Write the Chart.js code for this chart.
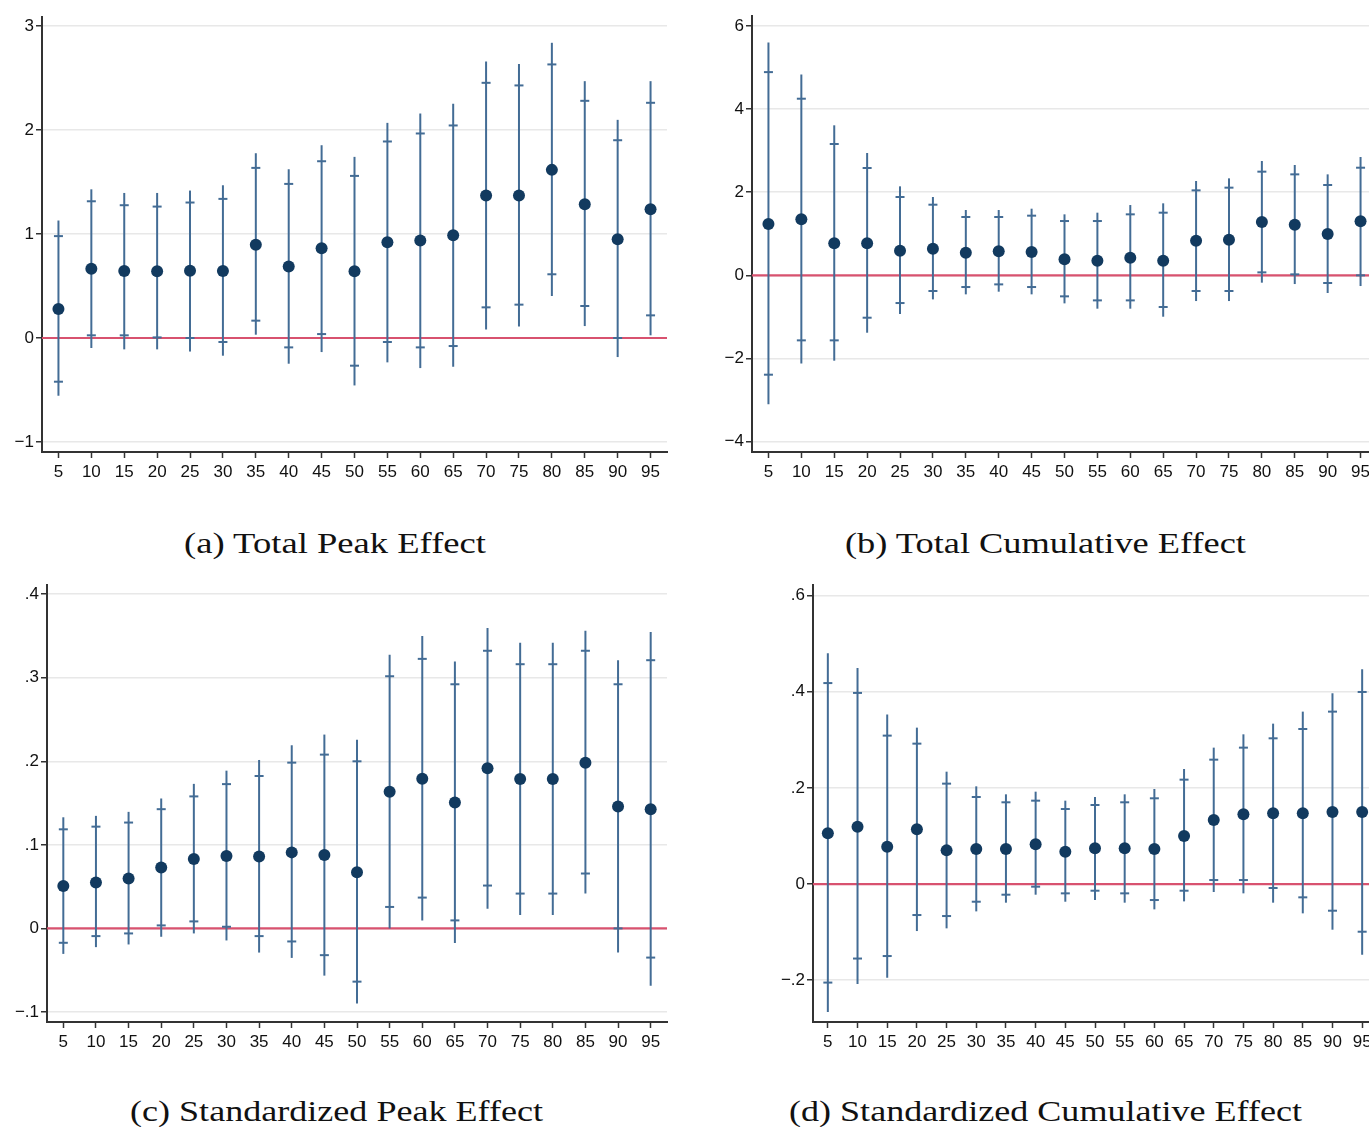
<!DOCTYPE html>
<html><head><meta charset="utf-8">
<script src="https://cdn.jsdelivr.net/npm/chart.js@4.4.1/dist/chart.umd.min.js"></script>
<style>
html,body{margin:0;padding:0;background:#fff;}
#wrap{position:relative;width:1369px;height:1127px;overflow:hidden;background:#fff;}
canvas{position:absolute;}
.cap{position:absolute;font-family:"Liberation Serif",serif;font-size:30px;line-height:1;color:#111;white-space:nowrap;transform-origin:0 0;}
</style></head><body>
<div id="wrap">
<canvas id="cA"></canvas>
<canvas id="cB"></canvas>
<canvas id="cC"></canvas>
<canvas id="cD"></canvas>
<div class="cap" id="capA">(a) Total Peak Effect</div>
<div class="cap" id="capB">(b) Total Cumulative Effect</div>
<div class="cap" id="capC">(c) Standardized Peak Effect</div>
<div class="cap" id="capD">(d) Standardized Cumulative Effect</div>
</div>
<script>
// ---------- data ----------
const categories = [5,10,15,20,25,30,35,40,45,50,55,60,65,70,75,80,85,90,95];

// (a) Total Peak Effect
const peakEst  = [0.28,0.667,0.645,0.642,0.648,0.645,0.898,0.687,0.863,0.642,0.921,0.937,0.988,1.37,1.37,1.617,1.287,0.95,1.238];
const peakLo95 = [-0.555,-0.096,-0.109,-0.109,-0.13,-0.17,0.032,-0.247,-0.135,-0.456,-0.234,-0.289,-0.276,0.083,0.112,0.404,0.115,-0.183,0.026];
const peakHi95 = [1.13,1.43,1.395,1.395,1.418,1.469,1.777,1.623,1.854,1.742,2.069,2.159,2.252,2.66,2.634,2.839,2.47,2.098,2.47];
const peakLo90 = [-0.42,0.026,0.026,0.006,0.0,-0.038,0.167,-0.09,0.038,-0.266,-0.038,-0.09,-0.077,0.295,0.321,0.613,0.308,0.0,0.218];
const peakHi90 = [0.98,1.315,1.277,1.264,1.303,1.338,1.636,1.482,1.70,1.559,1.89,1.967,2.044,2.454,2.429,2.631,2.281,1.902,2.262];

// (b) Total Cumulative Effect
const cumEst  = [1.235,1.348,0.77,0.77,0.594,0.642,0.545,0.578,0.561,0.385,0.353,0.425,0.353,0.834,0.858,1.283,1.219,0.995,1.30];
const cumLo95 = [-3.10,-2.118,-2.053,-1.38,-0.93,-0.578,-0.457,-0.393,-0.457,-0.674,-0.802,-0.802,-0.995,-0.618,-0.618,-0.176,-0.209,-0.425,-0.257];
const cumHi95 = [5.60,4.83,3.61,2.944,2.142,1.885,1.572,1.572,1.604,1.468,1.508,1.692,1.733,2.27,2.334,2.751,2.655,2.43,2.848];
const cumLo90 = [-2.39,-1.564,-1.564,-1.019,-0.666,-0.377,-0.281,-0.217,-0.281,-0.505,-0.602,-0.602,-0.762,-0.377,-0.377,0.072,0.024,-0.184,0.0];
const cumHi90 = [4.89,4.25,3.16,2.583,1.885,1.70,1.404,1.404,1.436,1.307,1.307,1.468,1.508,2.045,2.11,2.495,2.43,2.174,2.59];

// (c) Standardized Peak Effect
const stdPeakEst  = [0.0509,0.0549,0.0597,0.0729,0.083,0.0866,0.0862,0.091,0.0878,0.0673,0.1635,0.1792,0.1507,0.1916,0.1788,0.1788,0.1984,0.1459,0.1427];
const stdPeakLo95 = [-0.0305,-0.0224,-0.0192,-0.01,-0.006,-0.0144,-0.0289,-0.0353,-0.0565,-0.0898,0.0,0.0096,-0.0176,0.0236,0.016,0.016,0.0417,-0.0289,-0.0685];
const stdPeakHi95 = [0.133,0.1347,0.1395,0.1555,0.173,0.1888,0.2016,0.2192,0.232,0.2257,0.3275,0.35,0.3194,0.3595,0.3419,0.3419,0.3563,0.321,0.3547];
const stdPeakLo90 = [-0.0172,-0.0092,-0.006,0.0036,0.0084,0.002,-0.0092,-0.0156,-0.032,-0.0637,0.0257,0.0369,0.0096,0.0513,0.0417,0.0417,0.0657,0.0,-0.0349];
const stdPeakHi90 = [0.1186,0.1218,0.1267,0.1427,0.158,0.1727,0.1824,0.1984,0.208,0.20,0.3018,0.3226,0.2922,0.3323,0.3162,0.3162,0.3323,0.2922,0.321];

// (d) Standardized Cumulative Effect
const stdCumEst  = [0.1054,0.1193,0.0777,0.1138,0.07,0.0728,0.0728,0.0825,0.0673,0.0742,0.0742,0.0728,0.0999,0.1332,0.145,0.147,0.147,0.1498,0.1498];
const stdCumLo95 = [-0.266,-0.208,-0.195,-0.0978,-0.0922,-0.0569,-0.0388,-0.0222,-0.0368,-0.0333,-0.0388,-0.0527,-0.0361,-0.0166,-0.0194,-0.0388,-0.061,-0.095,-0.147];
const stdCumHi95 = [0.48,0.4495,0.3524,0.3253,0.2337,0.2032,0.1866,0.1921,0.1734,0.181,0.1866,0.1977,0.2393,0.2837,0.3114,0.3336,0.3586,0.3968,0.4467];
const stdCumLo90 = [-0.205,-0.155,-0.1498,-0.0645,-0.0666,-0.0368,-0.0222,-0.0055,-0.0194,-0.0139,-0.0194,-0.0333,-0.0139,0.0083,0.0083,-0.0083,-0.0277,-0.0555,-0.0992];
const stdCumHi90 = [0.418,0.3975,0.3087,0.292,0.2088,0.181,0.17,0.1734,0.156,0.1644,0.17,0.1783,0.2171,0.2587,0.2837,0.3031,0.3225,0.3586,0.3995];

// tick values / labels
const aTicks = [-1,0,1,2,3];           const aTickLabels = ['\u22121','0','1','2','3'];
const bTicks = [-4,-2,0,2,4,6];        const bTickLabels = ['\u22124','\u22122','0','2','4','6'];
const cTicks = [-0.1,0,0.1,0.2,0.3,0.4]; const cTickLabels = ['\u2212.1','0','.1','.2','.3','.4'];
const dTicks = [-0.2,0,0.2,0.4,0.6];   const dTickLabels = ['\u2212.2','0','.2','.4','.6'];
const refValue = 0;

// ---------- drawing ----------
const BAR_COLOR = '#436c95';
const PT_COLOR = '#123a5f';
const REF_COLOR = '#d8526f';

const ciPlugin = {
  id: 'ci',
  beforeDatasetsDraw(chart, args, o) {
    const {ctx, chartArea: a, scales: {x, y}} = chart;
    ctx.save();
    ctx.beginPath();
    ctx.rect(a.left, a.top, a.right - a.left, a.bottom - a.top);
    ctx.clip();
    const y0 = y.getPixelForValue(refValue);
    ctx.strokeStyle = REF_COLOR; ctx.lineWidth = 2.2;
    ctx.beginPath(); ctx.moveTo(a.left, y0); ctx.lineTo(a.right, y0); ctx.stroke();
    ctx.strokeStyle = BAR_COLOR; ctx.lineWidth = 2; ctx.lineCap = 'butt';
    categories.forEach((c, i) => {
      const px = x.getPixelForValue(c);
      ctx.beginPath();
      ctx.moveTo(px, y.getPixelForValue(o.lo95[i]));
      ctx.lineTo(px, y.getPixelForValue(o.hi95[i]));
      ctx.stroke();
      [o.lo90[i], o.hi90[i]].forEach(v => {
        const py = y.getPixelForValue(v);
        ctx.beginPath(); ctx.moveTo(px - 4.5, py); ctx.lineTo(px + 4.5, py); ctx.stroke();
      });
    });
    ctx.restore();
  }
};

const tickFont = {family: '"Liberation Sans", Arial, sans-serif', size: 17};

function makePanel(id, box, est, lo95, hi95, lo90, hi90, yTicks, yLabels) {
  const cv = document.getElementById(id);
  cv.width = box.w; cv.height = box.h;
  cv.style.left = box.left + 'px'; cv.style.top = box.top + 'px';
  new Chart(cv, {
    type: 'scatter',
    data: {datasets: [{
      data: categories.map((c, i) => ({x: c, y: est[i]})),
      pointRadius: 6, pointHoverRadius: 6,
      pointBackgroundColor: PT_COLOR, pointBorderWidth: 0, borderColor: PT_COLOR
    }]},
    options: {
      responsive: false, animation: false, devicePixelRatio: 1,
      events: [],
      layout: {padding: {top: box.padTop, right: box.padRight, left: 0, bottom: 0}},
      plugins: {legend: {display: false}, tooltip: {enabled: false},
        ci: {lo95, hi95, lo90, hi90}},
      scales: {
        x: {
          type: 'linear', min: box.xMin, max: box.xMax,
          afterBuildTicks: s => { s.ticks = categories.map(v => ({value: v})); },
          afterFit: s => { s.height = box.xAxisH; },
          ticks: {autoSkip: false, maxRotation: 0, minRotation: 0, padding: 4,
            font: tickFont, color: '#111',
            callback: (v) => String(v)},
          grid: {drawOnChartArea: false, drawTicks: true, tickLength: 6, tickColor: '#333', tickWidth: 1.5},
          border: {display: true, color: '#333', width: 2}
        },
        y: {
          type: 'linear', min: box.yMin, max: box.yMax,
          afterBuildTicks: s => { s.ticks = yTicks.map(v => ({value: v})); },
          afterFit: s => { s.width = box.yAxisW; },
          ticks: {padding: 2, font: tickFont, color: '#111',
            callback: (v) => { const k = yTicks.findIndex(t => Math.abs(t - v) < 1e-9); return k >= 0 ? yLabels[k] : ''; }},
          grid: {color: '#e8e8e8', lineWidth: 1.5, drawTicks: true, tickLength: 6, tickColor: '#333', tickWidth: 1.5},
          border: {display: true, color: '#333', width: 2}
        }
      }
    },
    plugins: [ciPlugin]
  });
}

makePanel('cA', {left: 0, top: 0, w: 680, h: 500, padTop: 17, padRight: 13, yAxisW: 42, xAxisH: 48,
  xMin: 2.5, xMax: 97.5, yMin: -1.096, yMax: 3.087},
  peakEst, peakLo95, peakHi95, peakLo90, peakHi90, aTicks, aTickLabels);
makePanel('cB', {left: 710, top: 0, w: 680, h: 500, padTop: 16, padRight: 13, yAxisW: 42, xAxisH: 48,
  xMin: 2.5, xMax: 97.5, yMin: -4.25, yMax: 6.24},
  cumEst, cumLo95, cumHi95, cumLo90, cumHi90, bTicks, bTickLabels);
makePanel('cC', {left: 0, top: 568, w: 680, h: 502, padTop: 17, padRight: 13, yAxisW: 47, xAxisH: 48,
  xMin: 2.5, xMax: 97.5, yMin: -0.112, yMax: 0.411},
  stdPeakEst, stdPeakLo95, stdPeakHi95, stdPeakLo90, stdPeakHi90, cTicks, cTickLabels);
makePanel('cD', {left: 763, top: 568, w: 627, h: 502, padTop: 17, padRight: 13, yAxisW: 50, xAxisH: 48,
  xMin: 2.5, xMax: 97.5, yMin: -0.287, yMax: 0.622},
  stdCumEst, stdCumLo95, stdCumHi95, stdCumLo90, stdCumHi90, dTicks, dTickLabels);

// captions: [id, center x, baseline y, target width]
const caps = [['capA', 335, 553, 302], ['capB', 1045.5, 553, 401], ['capC', 336.5, 1121, 413], ['capD', 1045.5, 1121, 513]];
caps.forEach(([id, cx, base, tw]) => {
  const el = document.getElementById(id);
  const w = el.getBoundingClientRect().width;
  const k = tw / w;
  el.style.left = (cx - tw / 2) + 'px';
  el.style.top = (base - 25) + 'px';
  el.style.transform = 'scaleX(' + k.toFixed(4) + ')';
});
</script>
</body></html>
